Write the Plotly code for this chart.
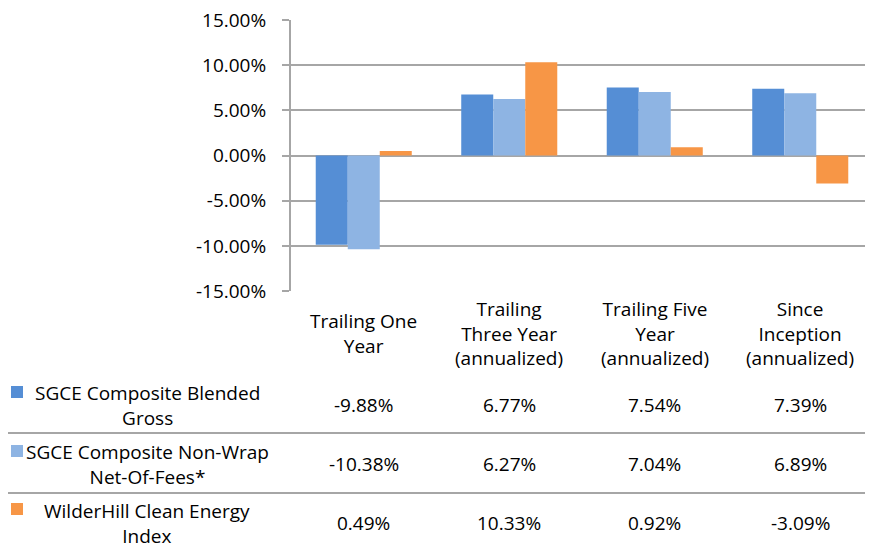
import plotly.graph_objects as go

# ---- data ----
categories = ["Trailing One Year", "Trailing Three Year (annualized)",
              "Trailing Five Year (annualized)", "Since Inception (annualized)"]
category_labels = ["Trailing One<br>Year", "Trailing<br>Three Year<br>(annualized)",
                   "Trailing Five<br>Year<br>(annualized)", "Since<br>Inception<br>(annualized)"]
series_names = ["SGCE Composite Blended Gross", "SGCE Composite Non-Wrap Net-Of-Fees*",
                "WilderHill Clean Energy Index"]
series_labels = ["SGCE Composite Blended<br>Gross", "SGCE Composite Non-Wrap<br>Net-Of-Fees*",
                 "WilderHill Clean Energy<br>Index"]
blended_gross = [-9.88, 6.77, 7.54, 7.39]
non_wrap_net = [-10.38, 6.27, 7.04, 6.89]
wilderhill = [0.49, 10.33, 0.92, -3.09]
y_ticks = [-15, -10, -5, 0, 5, 10, 15]

series_values = [blended_gross, non_wrap_net, wilderhill]
colors = ["#558ED5", "#8EB4E3", "#F79646"]

# page body has an 8px default margin; design in page pixels, shift into figure pixels
OFF = 8
W, H = 873 - OFF, 543 - OFF
L, T, R, B = 291 - OFF, 20 - OFF, 873 - OFF, 291 - OFF  # plot area in figure pixels
FONT = "Open Sans, Lato, sans-serif"
FS = 19
GRID = "#A6A6A6"


def px(x):  # page pixel -> paper x
    return (x - OFF - L) / (R - L)


def py(y):  # page pixel -> paper y
    return (B - (y - OFF)) / (B - T)


fig = go.Figure()
for name, vals, col in zip(series_names, series_values, colors):
    fig.add_trace(go.Bar(x=categories, y=vals, name=name, marker=dict(color=col, line=dict(width=0))))

annotations = []
shapes = []
# category headers
for cat, lab in zip(categories, category_labels):
    annotations.append(dict(x=cat, xref="x", y=py(333), yref="paper", text=lab, showarrow=False,
                            xanchor="center", yanchor="middle", align="center",
                            font=dict(family=FONT, size=FS, color="#000")))
# rows
row_centers = [405, 464, 523]
key_boxes = [(386, 398), (445, 457), (503, 515)]
for lab, vals, col, rc, kb in zip(series_labels, series_values, colors, row_centers, key_boxes):
    annotations.append(dict(x=px(147), xref="paper", y=py(rc), yref="paper", text=lab, showarrow=False,
                            xanchor="center", yanchor="middle", align="center",
                            font=dict(family=FONT, size=FS, color="#000")))
    shapes.append(dict(type="rect", xref="paper", yref="paper", x0=px(11), x1=px(23),
                       y0=py(kb[1]), y1=py(kb[0]), fillcolor=col, line=dict(width=0)))
    for cat, v in zip(categories, vals):
        annotations.append(dict(x=cat, xref="x", y=py(rc), yref="paper", text=f"{v:.2f}%",
                                showarrow=False, xanchor="center", yanchor="middle",
                                font=dict(family=FONT, size=FS, color="#000")))
for ly in [433, 493]:
    shapes.append(dict(type="line", xref="paper", yref="paper", x0=px(0), x1=px(873), y0=py(ly), y1=py(ly),
                       line=dict(color=GRID, width=2)))

fig.update_layout(
    width=W, height=H,
    margin=dict(l=L, r=W - R, t=T, b=H - B, pad=0),
    paper_bgcolor="white", plot_bgcolor="white",
    barmode="group", bargap=0.34, bargroupgap=0,
    showlegend=False,
    font=dict(family=FONT, size=FS, color="#000"),
    xaxis=dict(showticklabels=False, showgrid=False, showline=False, zeroline=False, ticks="",
               range=[-0.5, 3.5], fixedrange=True),
    yaxis=dict(range=[-15, 15.01], tickvals=y_ticks, ticktext=[f"{v:.2f}%" for v in y_ticks],
               showgrid=True, gridcolor=GRID, gridwidth=2,
               zeroline=True, zerolinecolor=GRID, zerolinewidth=2,
               showline=True, linecolor=GRID, linewidth=2,
               ticks="outside", ticklen=7, tickcolor=GRID, tickwidth=2,
               ticklabelstandoff=12, ticklabeloverflow="allow",
               tickfont=dict(family=FONT, size=FS, color="#000")),
    annotations=annotations,
    shapes=shapes,
)

fig.write_html("out.html")
